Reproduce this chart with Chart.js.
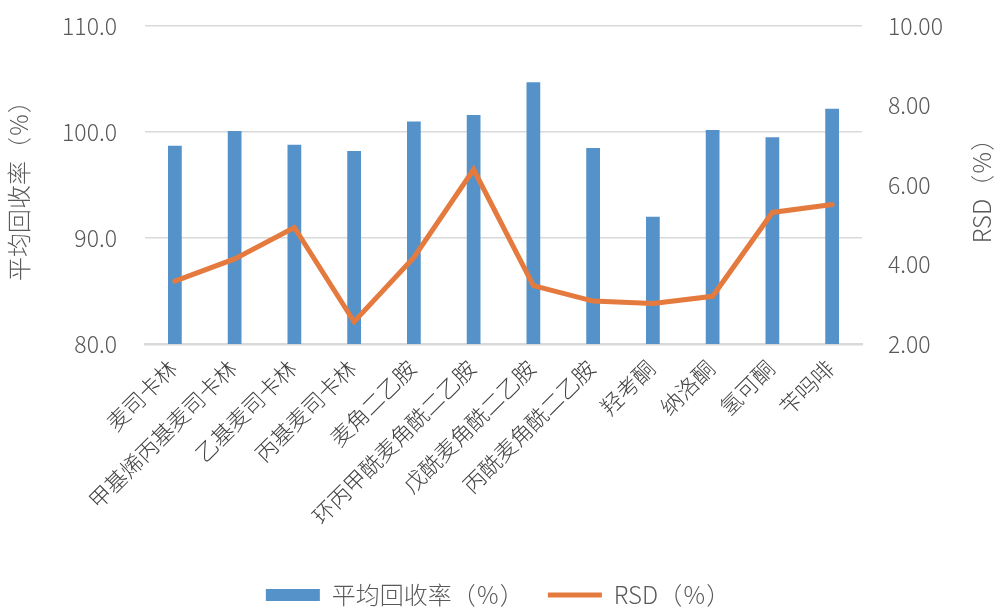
<!DOCTYPE html>
<html>
<head>
<meta charset="utf-8">
<script src="https://cdn.jsdelivr.net/npm/chart.js@4/dist/chart.umd.min.js"></script>
<style>
  html, body { margin: 0; padding: 0; background: #fff; }
  #contenedor { width: 996px; height: 607px; }
</style>
</head>
<body>
<div id="contenedor"><canvas id="myChart"></canvas></div>
<script>
//Datos

const compuestos = ['麦司卡林', '甲基烯丙基麦司卡林', '乙基麦司卡林', '丙基麦司卡林', '麦角二乙胺',
  '环丙甲酰麦角酰二乙胺', '戊酰麦角酰二乙胺', '丙酰麦角酰二乙胺', '羟考酮', '纳洛酮', '氢可酮', '苄吗啡'];
const recuperacion = [98.7, 100.1, 98.8, 98.2, 101.0, 101.6, 104.7, 98.5, 92.0, 100.2, 99.5, 102.2];
const rsd = [3.58, 4.14, 4.93, 2.56, 4.18, 6.39, 3.47, 3.08, 3.02, 3.20, 5.31, 5.51];

const nombreBarras = '平均回收率（％）';
const nombreLinea = 'RSD（％）';
const ticksIzq = { min: 80, max: 110, paso: 10 };
const ticksDer = { min: 2, max: 10, paso: 2 };

//Estilos

const azul = '#5592c9';
const naranja = '#e57a3f';
const gris = '#595959';
const grisOscuro = '#404040';
const grilla = '#d9d9d9';
const fuente = "'Noto Sans CJK SC', 'Open Sans', sans-serif";

let chartGraph = document.getElementById('myChart');

// titulo del eje derecho, leido de abajo hacia arriba como el izquierdo
const tituloDerecho = {
  id: 'tituloDerecho',
  afterDraw(chart) {
    const ctx = chart.ctx;
    const area = chart.chartArea;
    ctx.save();
    ctx.translate(chart.width - 14, (area.top + area.bottom) / 2);
    ctx.rotate(-Math.PI / 2);
    ctx.fillStyle = gris;
    ctx.font = `300 24px ${fuente}`;
    ctx.textAlign = 'center';
    ctx.textBaseline = 'middle';
    ctx.fillText(nombreLinea, 0, 0);
    ctx.restore();
  }
};

// ancho fijo para los ejes verticales, sin margen extra arriba/abajo
function ajusteEje(ancho) {
  return (scale) => {
    scale.width = ancho;
    scale.paddingTop = 0;
    scale.paddingBottom = 0;
  };
}

//Grafico

const data = {
  labels: compuestos,
  datasets: [
    {
      type: 'bar',
      label: nombreBarras,
      data: recuperacion,
      yAxisID: 'y',
      backgroundColor: azul,
      borderWidth: 0,
      barPercentage: 0.23,
      categoryPercentage: 1,
      pointStyle: 'rect',
      order: 1
    },
    {
      type: 'line',
      label: nombreLinea,
      data: rsd,
      yAxisID: 'y1',
      borderColor: naranja,
      backgroundColor: naranja,
      borderWidth: 5,
      borderCapStyle: 'round',
      borderJoinStyle: 'miter',
      tension: 0,
      pointRadius: 0,
      pointStyle: 'line',
      order: 0
    }
  ]
};

const config = {
  data: data,
  plugins: [tituloDerecho],
  options: {
    responsive: true,
    maintainAspectRatio: false,
    animation: false,
    layout: { padding: { top: 26, left: 0, right: 0, bottom: -10 } },
    plugins: {
      tooltip: { enabled: false },
      legend: {
        position: 'bottom',
        labels: {
          usePointStyle: true,
          pointStyleWidth: 54,
          boxHeight: 12,
          padding: 24,
          color: gris,
          font: { family: fuente, size: 24, weight: 300 },
          sort: (a, b) => a.datasetIndex - b.datasetIndex
        }
      }
    },
    scales: {
      x: {
        grid: { display: false },
        border: { display: true, color: grilla, width: 2.5 },
        ticks: {
          color: grisOscuro,
          minRotation: 45,
          maxRotation: 45,
          autoSkip: false,
          padding: 3,
          labelOffset: -2,
          font: { family: fuente, size: 22, weight: 300 }
        },
        afterFit: (scale) => { scale.height = 215; }
      },
      y: {
        position: 'left',
        min: ticksIzq.min,
        max: ticksIzq.max,
        grid: { color: grilla, lineWidth: 1.5, drawTicks: false },
        border: { display: false },
        ticks: {
          stepSize: ticksIzq.paso,
          padding: 28,
          color: gris,
          font: { family: fuente, size: 23, weight: 300 },
          callback: (v) => v.toFixed(1)
        },
        title: {
          display: true,
          text: nombreBarras,
          color: gris,
          padding: { top: 4, bottom: 0 },
          font: { family: fuente, size: 24, weight: 300 }
        },
        afterFit: ajusteEje(145)
      },
      y1: {
        position: 'right',
        min: ticksDer.min,
        max: ticksDer.max,
        grid: { display: false, drawTicks: false },
        border: { display: false },
        ticks: {
          stepSize: ticksDer.paso,
          padding: 26,
          color: gris,
          font: { family: fuente, size: 23, weight: 300 },
          callback: (v) => v.toFixed(2)
        },
        afterFit: ajusteEje(134)
      }
    }
  }
};

window.myChart = new Chart(chartGraph, config);
</script>
</body>
</html>
